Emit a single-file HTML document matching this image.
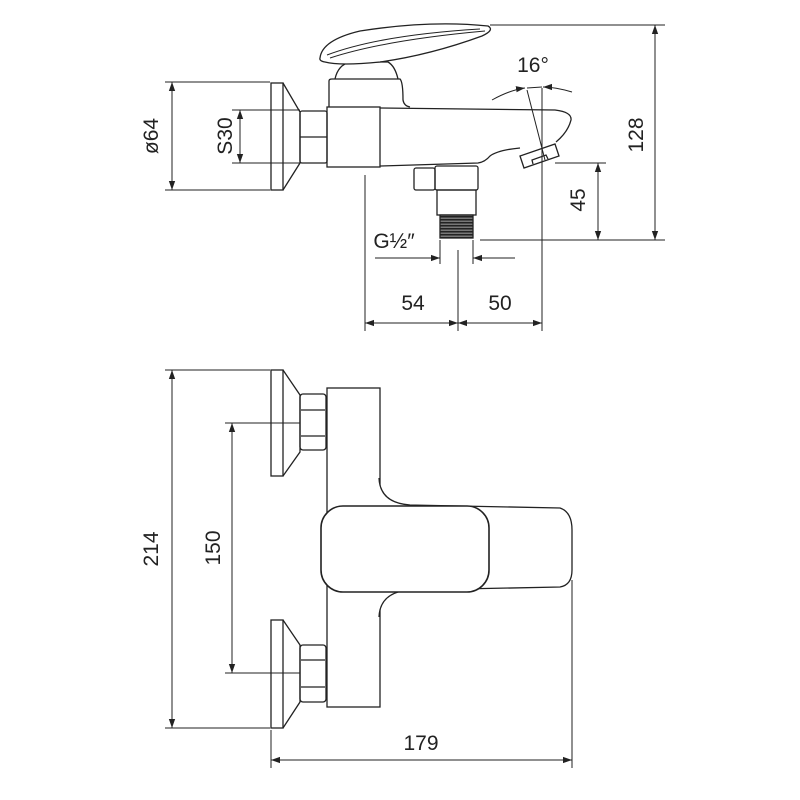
<!DOCTYPE html>
<html><head><style>
html,body{margin:0;padding:0;background:#fff;}
svg{display:block;}
text{font-family:"Liberation Sans",sans-serif;font-size:21px;fill:#222;}
</style></head><body>
<svg width="800" height="800" viewBox="0 0 800 800" xmlns="http://www.w3.org/2000/svg">
<defs>
<marker id="a" viewBox="0 0 10 10" refX="10" refY="5" markerWidth="9" markerHeight="9" orient="auto-start-reverse" markerUnits="userSpaceOnUse"><path d="M0,1.5 L10,5 L0,8.5 Z" fill="#222"/></marker>
<pattern id="th" width="4" height="3" patternUnits="userSpaceOnUse"><rect width="4" height="3" fill="#777"/><rect width="4" height="1.5" fill="#222"/></pattern>
</defs>
<g fill="none" stroke="#222" stroke-width="1.3">
<rect x="271" y="83" width="12" height="107" fill="#fff"/>
<path d="M283,83 L300,112 L300,163 L283,190"/>
<rect x="300" y="111" width="27" height="52" rx="2"/>
<line x1="300" y1="137" x2="327" y2="137"/>
<rect x="327" y="107" width="53" height="60"/>
<path d="M329,107 L329,81 Q329,79 332,79 L400,79 Q403,82 403,100 Q404,106 410,107"/>
<path d="M335,79 Q338,65 350,62 L388,62 Q395,66 398,79"/>
<path d="M320,58 Q322,40 360,31 Q430,20 488,26 Q495,30 482,36 Q430,55 380,62 Q340,66 325,62 Q319,61 320,58 Z" fill="#fff"/>
<path d="M327,55 Q380,35 480,29" stroke-width="1"/>
<path d="M330,58 Q385,40 485,31" stroke-width="1"/>
<path d="M380,108 L555,110 Q572,112 571,120 Q568,132 556,142"/>
<path d="M380,166 L478,163 Q485,162 490,156 Q498,150 520,148"/>
<path d="M520,156 L524,168 L559,156 L555,144 Z" fill="#fff"/>
<path d="M533,164 L532,160 L546,155 L548,159"/>
<rect x="414" y="168" width="21" height="22" rx="2"/>
<rect x="435" y="166" width="43" height="24" rx="2"/>
<rect x="437" y="190" width="39" height="25"/>
<rect x="440" y="215" width="33" height="23" fill="url(#th)"/>
<g stroke-width="1">
<line x1="165" y1="82" x2="270" y2="82"/><line x1="165" y1="190" x2="270" y2="190"/>
<line x1="172" y1="82" x2="172" y2="190" marker-start="url(#a)" marker-end="url(#a)"/>
<line x1="232" y1="110" x2="300" y2="110"/><line x1="232" y1="163" x2="300" y2="163"/>
<line x1="240" y1="110" x2="240" y2="163" marker-start="url(#a)" marker-end="url(#a)"/>
<line x1="490" y1="25" x2="665" y2="25"/><line x1="480" y1="240" x2="665" y2="240"/>
<line x1="655" y1="25" x2="655" y2="240" marker-start="url(#a)" marker-end="url(#a)"/>
<line x1="555" y1="163" x2="606" y2="163"/>
<line x1="598" y1="163" x2="598" y2="240" marker-start="url(#a)" marker-end="url(#a)"/>
<line x1="365" y1="175" x2="365" y2="331"/>
<line x1="458" y1="250" x2="458" y2="331"/>
<line x1="542" y1="88" x2="542" y2="331"/>
<line x1="365" y1="323" x2="458" y2="323" marker-start="url(#a)" marker-end="url(#a)"/>
<line x1="458" y1="323" x2="542" y2="323" marker-start="url(#a)" marker-end="url(#a)"/>
<line x1="440" y1="240" x2="440" y2="264"/><line x1="473" y1="240" x2="473" y2="264"/>
<line x1="375" y1="258" x2="440" y2="258" marker-end="url(#a)"/>
<line x1="515" y1="258" x2="473" y2="258" marker-end="url(#a)"/>
<line x1="527" y1="90" x2="545" y2="160"/>
<path d="M492,100 Q510,90 525,88" marker-end="url(#a)"/>
<path d="M572,92 Q555,87 543,87" marker-end="url(#a)"/>
<line x1="527" y1="88" x2="542" y2="87"/>
</g>
<rect x="271" y="370" width="12" height="106"/>
<path d="M283,370 L300,395 L300,452 L283,476"/>
<rect x="300" y="394" width="26" height="56" rx="3"/>
<line x1="301" y1="410" x2="325" y2="410"/><line x1="301" y1="436" x2="325" y2="436"/>
<rect x="271" y="620" width="12" height="108"/>
<path d="M283,620 L300,645 L300,702 L283,728"/>
<rect x="300" y="645" width="26" height="57" rx="3"/>
<line x1="301" y1="660" x2="325" y2="660"/><line x1="301" y1="687" x2="325" y2="687"/>
<rect x="327" y="388" width="53" height="319"/>
<path d="M379,478 Q380,503 410,505 L560,508 Q572,512 572,530 L572,570 Q572,585 560,587 L410,590 Q380,592 379,617" fill="#fff"/>
<rect x="321" y="506" width="168" height="86" rx="22" fill="#fff" stroke-width="1.6"/>
<g stroke-width="1">
<line x1="165" y1="370" x2="270" y2="370"/><line x1="165" y1="728" x2="270" y2="728"/>
<line x1="172" y1="370" x2="172" y2="728" marker-start="url(#a)" marker-end="url(#a)"/>
<line x1="225" y1="423" x2="300" y2="423"/><line x1="225" y1="673" x2="300" y2="673"/>
<line x1="232" y1="423" x2="232" y2="673" marker-start="url(#a)" marker-end="url(#a)"/>
<line x1="271" y1="730" x2="271" y2="768"/><line x1="572" y1="580" x2="572" y2="768"/>
<line x1="271" y1="760" x2="572" y2="760" marker-start="url(#a)" marker-end="url(#a)"/>
</g>
</g>
<text transform="translate(158,136) rotate(-90)" text-anchor="middle">ø64</text>
<text transform="translate(236,136) rotate(-90)" text-anchor="middle" dy="-4">S30</text>
<text transform="translate(643,135) rotate(-90)" text-anchor="middle">128</text>
<text transform="translate(585,200) rotate(-90)" text-anchor="middle">45</text>
<text x="533" y="72" text-anchor="middle">16°</text>
<text x="394" y="248" text-anchor="middle">G½″</text>
<text x="413" y="310" text-anchor="middle">54</text>
<text x="500" y="310" text-anchor="middle">50</text>
<text transform="translate(158,549) rotate(-90)" text-anchor="middle">214</text>
<text transform="translate(220,548) rotate(-90)" text-anchor="middle">150</text>
<text x="421" y="750" text-anchor="middle">179</text>
</svg>
</body></html>
